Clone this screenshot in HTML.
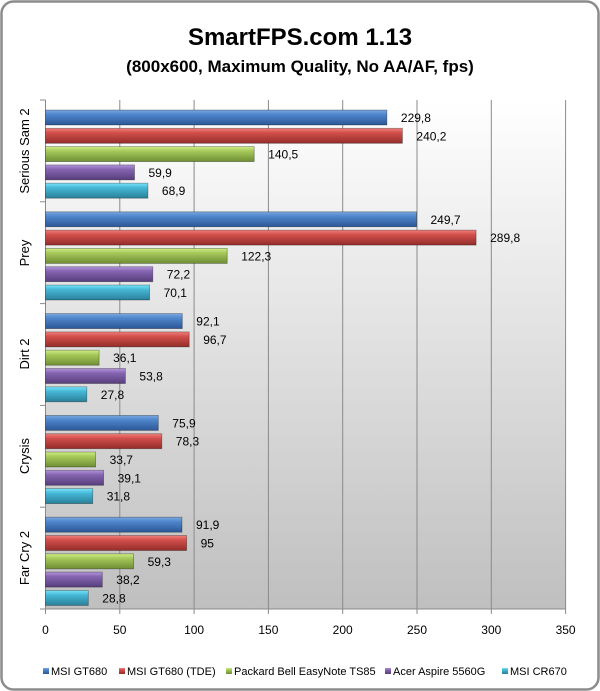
<!DOCTYPE html>
<html><head><meta charset="utf-8"><style>
html,body{margin:0;padding:0;background:#fff;}
svg{display:block;font-family:"Liberation Sans",sans-serif;}
</style></head><body>
<svg width="600" height="691" viewBox="0 0 600 691" xmlns="http://www.w3.org/2000/svg">
<defs>
<linearGradient id="bg" x1="0" y1="0" x2="0" y2="1"><stop offset="0" stop-color="#ffffff"/><stop offset="1" stop-color="#bfbfbf"/></linearGradient>
<linearGradient id="g0" x1="0" y1="0" x2="0" y2="1"><stop offset="0" stop-color="#7aa7e0"/><stop offset="0.3" stop-color="#4f86cc"/><stop offset="1" stop-color="#2b5796"/></linearGradient>
<linearGradient id="g1" x1="0" y1="0" x2="0" y2="1"><stop offset="0" stop-color="#f07f7c"/><stop offset="0.3" stop-color="#d24f4b"/><stop offset="1" stop-color="#932d2a"/></linearGradient>
<linearGradient id="g2" x1="0" y1="0" x2="0" y2="1"><stop offset="0" stop-color="#d0ee86"/><stop offset="0.3" stop-color="#a6c95a"/><stop offset="1" stop-color="#6f8e34"/></linearGradient>
<linearGradient id="g3" x1="0" y1="0" x2="0" y2="1"><stop offset="0" stop-color="#b394dc"/><stop offset="0.3" stop-color="#8565b0"/><stop offset="1" stop-color="#573e7c"/></linearGradient>
<linearGradient id="g4" x1="0" y1="0" x2="0" y2="1"><stop offset="0" stop-color="#78e4fb"/><stop offset="0.3" stop-color="#46b8d6"/><stop offset="1" stop-color="#2a8099"/></linearGradient>
</defs>
<rect x="1.5" y="1.5" width="597" height="688" rx="12" fill="#fff" stroke="#8c8c8c" stroke-width="2.5"/>
<text x="300" y="45" text-anchor="middle" font-size="24" font-weight="bold">SmartFPS.com 1.13</text>
<text x="300" y="72" text-anchor="middle" font-size="17" font-weight="bold">(800x600, Maximum Quality,  No AA/AF, fps)</text>
<rect x="45.5" y="100" width="520" height="509" fill="url(#bg)"/>
<g stroke="#8a8a8a" stroke-width="1">
<line x1="119.8" y1="100" x2="119.8" y2="614"/><line x1="194.1" y1="100" x2="194.1" y2="614"/><line x1="268.4" y1="100" x2="268.4" y2="614"/><line x1="342.7" y1="100" x2="342.7" y2="614"/><line x1="417" y1="100" x2="417" y2="614"/><line x1="491.3" y1="100" x2="491.3" y2="614"/><line x1="565.6" y1="100" x2="565.6" y2="614"/>
<line x1="45.5" y1="100" x2="45.5" y2="614"/>
<line x1="45.5" y1="609" x2="565.6" y2="609"/>
<line x1="40" y1="100" x2="45.5" y2="100"/><line x1="40" y1="201.8" x2="45.5" y2="201.8"/><line x1="40" y1="303.6" x2="45.5" y2="303.6"/><line x1="40" y1="405.4" x2="45.5" y2="405.4"/><line x1="40" y1="507.2" x2="45.5" y2="507.2"/><line x1="40" y1="609" x2="45.5" y2="609"/>
</g>
<g font-size="12" text-anchor="middle">
<text x="45.5" y="634">0</text><text x="119.8" y="634">50</text><text x="194.1" y="634">100</text><text x="268.4" y="634">150</text><text x="342.7" y="634">200</text><text x="417" y="634">250</text><text x="491.3" y="634">300</text><text x="565.6" y="634">350</text>
</g>
<g font-size="13" text-anchor="middle">
<text transform="translate(29,151) rotate(-90)">Serious Sam 2</text>
<text transform="translate(29,253) rotate(-90)">Prey</text>
<text transform="translate(29,354) rotate(-90)">Dirt 2</text>
<text transform="translate(29,456) rotate(-90)">Crysis</text>
<text transform="translate(29,558) rotate(-90)">Far Cry 2</text>
</g>
<g stroke="rgba(0,0,0,0.35)" stroke-width="0.8">
<rect x="45.5" y="110" width="341.4" height="15" fill="url(#g0)"/>
<rect x="45.5" y="128.3" width="356.9" height="15" fill="url(#g1)"/>
<rect x="45.5" y="146.6" width="208.7" height="15" fill="url(#g2)"/>
<rect x="45.5" y="164.9" width="89" height="15" fill="url(#g3)"/>
<rect x="45.5" y="183.2" width="102.4" height="15" fill="url(#g4)"/>
<rect x="45.5" y="211.8" width="371" height="15" fill="url(#g0)"/>
<rect x="45.5" y="230.1" width="430.6" height="15" fill="url(#g1)"/>
<rect x="45.5" y="248.4" width="181.7" height="15" fill="url(#g2)"/>
<rect x="45.5" y="266.7" width="107.3" height="15" fill="url(#g3)"/>
<rect x="45.5" y="285" width="104.1" height="15" fill="url(#g4)"/>
<rect x="45.5" y="313.6" width="136.8" height="15" fill="url(#g0)"/>
<rect x="45.5" y="331.9" width="143.7" height="15" fill="url(#g1)"/>
<rect x="45.5" y="350.2" width="53.6" height="15" fill="url(#g2)"/>
<rect x="45.5" y="368.5" width="79.9" height="15" fill="url(#g3)"/>
<rect x="45.5" y="386.8" width="41.3" height="15" fill="url(#g4)"/>
<rect x="45.5" y="415.4" width="112.8" height="15" fill="url(#g0)"/>
<rect x="45.5" y="433.7" width="116.3" height="15" fill="url(#g1)"/>
<rect x="45.5" y="452" width="50.1" height="15" fill="url(#g2)"/>
<rect x="45.5" y="470.3" width="58.1" height="15" fill="url(#g3)"/>
<rect x="45.5" y="488.6" width="47.2" height="15" fill="url(#g4)"/>
<rect x="45.5" y="517.2" width="136.5" height="15" fill="url(#g0)"/>
<rect x="45.5" y="535.5" width="141.1" height="15" fill="url(#g1)"/>
<rect x="45.5" y="553.8" width="88.1" height="15" fill="url(#g2)"/>
<rect x="45.5" y="572.1" width="56.8" height="15" fill="url(#g3)"/>
<rect x="45.5" y="590.4" width="42.8" height="15" fill="url(#g4)"/>
</g>
<g font-size="12">
<text x="400.9" y="122">229,8</text>
<text x="416.4" y="140.3">240,2</text>
<text x="268.2" y="158.6">140,5</text>
<text x="148.5" y="176.9">59,9</text>
<text x="161.9" y="195.2">68,9</text>
<text x="430.5" y="223.8">249,7</text>
<text x="490.1" y="242.1">289,8</text>
<text x="241.2" y="260.4">122,3</text>
<text x="166.8" y="278.7">72,2</text>
<text x="163.6" y="297">70,1</text>
<text x="196.3" y="325.6">92,1</text>
<text x="203.2" y="343.9">96,7</text>
<text x="113.1" y="362.2">36,1</text>
<text x="139.4" y="380.5">53,8</text>
<text x="100.8" y="398.8">27,8</text>
<text x="172.3" y="427.4">75,9</text>
<text x="175.8" y="445.7">78,3</text>
<text x="109.6" y="464">33,7</text>
<text x="117.6" y="482.3">39,1</text>
<text x="106.7" y="500.6">31,8</text>
<text x="196" y="529.2">91,9</text>
<text x="200.6" y="547.5">95</text>
<text x="147.6" y="565.8">59,3</text>
<text x="116.3" y="584.1">38,2</text>
<text x="102.3" y="602.4">28,8</text>
</g>
<g font-size="11">
<rect x="43" y="668" width="6" height="6" fill="url(#g0)"/><text x="51" y="675">MSI GT680</text>
<rect x="119" y="668" width="6" height="6" fill="url(#g1)"/><text x="127" y="675">MSI GT680 (TDE)</text>
<rect x="226" y="668" width="6" height="6" fill="url(#g2)"/><text x="234" y="675">Packard Bell EasyNote TS85</text>
<rect x="385" y="668" width="6" height="6" fill="url(#g3)"/><text x="393" y="675">Acer Aspire 5560G</text>
<rect x="502" y="668" width="6" height="6" fill="url(#g4)"/><text x="510" y="675">MSI CR670</text>
</g>
</svg>
</body></html>
